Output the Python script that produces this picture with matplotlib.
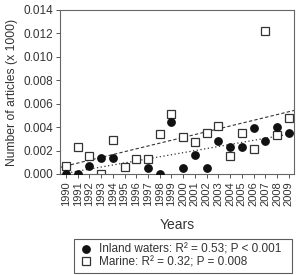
import numpy as np
import matplotlib
matplotlib.use("Agg")
import matplotlib.pyplot as plt
from matplotlib import font_manager

years = list(range(1990, 2010))
inland = [0.0, 0.0, 0.0007, 0.0014, 0.0014, np.nan, np.nan, 0.0005, 0.0, 0.0044,
          0.0005, 0.0016, 0.0005, 0.0028, 0.0023, 0.0023, 0.0039, 0.0028, 0.0040, 0.0035]
marine = [0.0007, 0.0023, 0.0015, 0.0, 0.0029, 0.0006, 0.0013, 0.0013, 0.0034, 0.0051,
          0.0032, 0.0027, 0.0035, 0.0041, 0.0015, 0.0035, 0.0021, 0.0122, 0.0033, 0.0048]
yticks = [0.000, 0.002, 0.004, 0.006, 0.008, 0.010, 0.012, 0.014]
legend_labels = ["Inland waters: R² = 0.53; P < 0.001", "Marine: R² = 0.32; P = 0.008"]

names = {f.name for f in font_manager.fontManager.ttflist}
fam = "Liberation Sans Narrow" if "Liberation Sans Narrow" in names else "Liberation Sans"
plt.rcParams['font.family'] = [fam, 'DejaVu Sans']

fig = plt.figure(figsize=(2.98, 2.75), dpi=100)
ax = fig.add_axes([60/298, 101/275, 234/298, 164/275])

x = np.array(years, dtype=float)
yi = np.array(inland, dtype=float)
ym = np.array(marine, dtype=float)

# trend lines (least-squares fits of the data)
mi = ~np.isnan(yi)
pi = np.polyfit(x[mi], yi[mi], 1)
pm = np.polyfit(x, ym, 1)
xx = np.array([1989.5, 2009.5])
ax.plot(xx, np.polyval(pm, xx), ls=(0, (3, 2)), color='#333333', lw=0.8, zorder=1)
ax.plot(xx, np.polyval(pi, xx), ls=(0, (1, 2)), color='#333333', lw=0.9, zorder=1)

h1, = ax.plot(x, yi, 'o', color='#111111', markersize=5.3, ls='none', zorder=3)
h2, = ax.plot(x, ym, 's', mfc='white', mec='#333333', mew=0.9, markersize=6, ls='none', zorder=2)

ax.set_xlim(1989.5, 2009.45)
ax.set_ylim(0, 0.014)
ax.set_yticks(yticks)
ax.set_yticklabels([f"{v:.3f}" for v in yticks], fontsize=8.5, color='#333333')
ax.set_xticks(years)
ax.set_xticklabels([str(y) for y in years], rotation=90, fontsize=8, color='#333333')
ax.tick_params(direction='out', length=3, width=0.7, colors='#555555', labelcolor='#333333', pad=2)
for s in ax.spines.values():
    s.set_linewidth(0.8)
    s.set_color('#666666')

ax.set_xlabel("Years", fontsize=10, color='#333333', labelpad=9)
ax.set_ylabel("Number of articles (x 1000)", fontsize=8.7, color='#333333', labelpad=4)

leg = fig.legend([h1, h2], legend_labels, loc='upper left',
                 bbox_to_anchor=(74/298, 1/275, (292-74)/298, 35/275), mode='expand',
                 fontsize=8.5, frameon=True, fancybox=False, handlelength=1.2,
                 handletextpad=0.5, borderpad=0.4, labelspacing=0.05, borderaxespad=0)
leg.get_frame().set_edgecolor('#333333')
leg.get_frame().set_linewidth(0.8)
for t in leg.get_texts():
    t.set_color('#333333')

fig.savefig("out.png", dpi=100)
